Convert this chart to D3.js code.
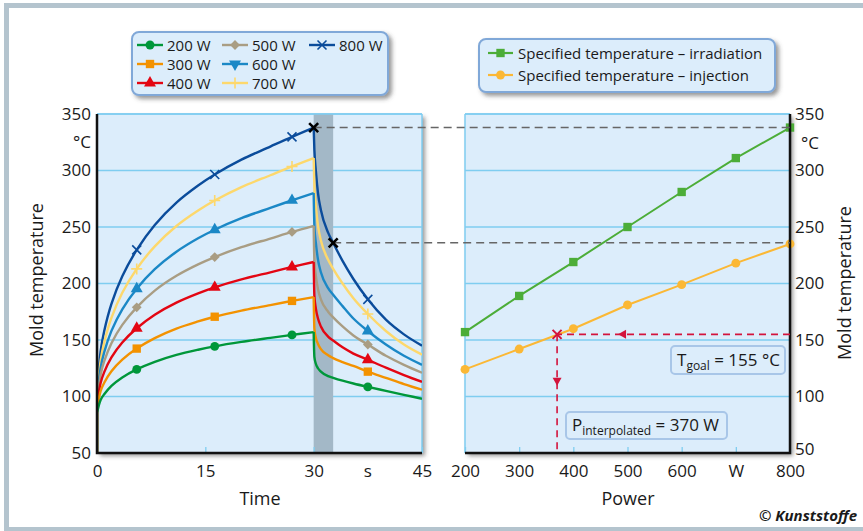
<!DOCTYPE html>
<html lang="en">
<head>
<meta charset="UTF-8">
<title>Mold temperature vs. time and power</title>
<script src="https://cdnjs.cloudflare.com/ajax/libs/d3/7.8.5/d3.min.js"></script>
<style>
  body { margin: 0; background: white; font-family: "Open Sans", sans-serif; }
  svg text { fill: #1a1a1a; }
</style>
</head>
<body>
<div id="chart"></div>
<script>
const width = 863, height = 531;

// heating (0-30 s) and cooling (30-45 s) curves, mold temperature in °C
const times = [0, 0.02, 0.5, 1, 2, 3.5, 5.5, 8, 11, 14, 16.3, 20, 24, 27, 30, 30.1, 30.3, 30.6, 31, 32, 32.7, 34, 35.5, 37.5, 40, 42.5, 45];
const temp200 = [50, 86, 97, 102, 109.4, 116.9, 124, 130.7, 136.8, 141.4, 144.4, 148.3, 151.9, 154.5, 157, 135, 129, 125, 122, 118, 116.5, 114, 111.5, 108.5, 105, 101.5, 98];
const temp300 = [50, 90, 104.7, 112.2, 122.3, 132.6, 142.4, 151.7, 160.1, 166.4, 170.6, 176, 180.9, 184.6, 188, 160, 152, 146.5, 142, 136.5, 134, 130.5, 127, 122, 116.5, 111, 106];
const temp400 = [50, 93, 112, 121.6, 134.6, 147.8, 160.4, 172.4, 183.1, 191.3, 196.6, 203.6, 209.9, 214.6, 219, 189, 178, 169, 162, 153, 149.5, 143.5, 138, 132.5, 125.5, 119, 113];
const temp500 = [50, 96, 119.3, 131.2, 147.2, 163.4, 178.9, 193.7, 206.8, 216.9, 223.4, 232.1, 239.8, 245.6, 251, 220, 207, 195, 186, 175, 170, 162, 154, 146, 136, 128, 121];
const temp600 = [50, 98, 125.3, 139.3, 158.1, 177.2, 195.4, 212.7, 228.1, 240, 247.6, 257.8, 266.9, 273.6, 280, 251, 236, 221, 210, 196, 190, 180, 169, 158, 146, 136, 128];
const temp700 = [50, 100, 131.7, 147.9, 169.6, 191.8, 212.9, 232.9, 250.9, 264.6, 273.4, 285.3, 295.8, 303.6, 311, 285, 269, 251, 238, 221, 213, 200, 187, 173, 158, 146, 137];
const temp800 = [50, 105, 140, 158, 182, 206.4, 229.7, 251.8, 271.6, 286.7, 296.5, 309.6, 321.2, 329.8, 338, 318, 300, 280, 265, 245, 236, 220, 204, 186, 168, 155, 145];
const seriesNames = ["200 W", "300 W", "400 W", "500 W", "600 W", "700 W", "800 W"];
const markerTimes = [5.5, 16.3, 27, 37.5];
const switchTime = 30, injectTime = 32.7;

// right chart: specified temperatures per power level
const powers = [200, 300, 400, 500, 600, 700, 800];
const tempIrradiation = [157, 189, 219, 250, 281, 311, 338];
const tempInjection = [124, 142, 160, 181, 199, 218, 235];
const tGoal = 155, pInterpolated = 370;

const tempTicks = [50, 100, 150, 200, 250, 300, 350];
const timeTicks = [0, 15, 30, 45];
const powerTicks = [200, 300, 400, 500, 600, 700, 800];

const allTemps = [temp200, temp300, temp400, temp500, temp600, temp700, temp800];
const colors = ["#00973a", "#f39200", "#e30613", "#a99d83", "#1b88c6", "#fdd86c", "#0b4c9b"];
const shapes = ["circle", "square", "triangle", "diamond", "triangle", "plus", "cross"];

const svg = d3.select("#chart").append("svg")
  .attr("width", width).attr("height", height);

const defs = svg.append("defs");
defs.append("filter").attr("id", "shadow").attr("x", "-10%").attr("y", "-10%").attr("width", "130%").attr("height", "130%")
  .append("feDropShadow").attr("dx", 3).attr("dy", 3).attr("stdDeviation", 2)
  .attr("flood-color", "#444").attr("flood-opacity", 0.55);

// outer frame
svg.append("rect").attr("x", 6.5).attr("y", 5.5).attr("width", 900).attr("height", 524)
  .attr("fill", "white").attr("stroke", "#b4c4ce").attr("stroke-width", 5);

const x1 = d3.scaleLinear().domain([0, 45]).range([97, 422]);
const x2 = d3.scaleLinear().domain([200, 800]).range([465, 790]);
const y = d3.scaleLinear().domain([50, 350]).range([453, 114]);

function markerPath(kind) {
  if (kind === "circle") return d3.symbol(d3.symbolCircle, 62)();
  if (kind === "square") return d3.symbol(d3.symbolSquare, 70)();
  if (kind === "triangle") return d3.symbol(d3.symbolTriangle, 62)();
  if (kind === "diamond") return d3.symbol(d3.symbolSquare, 48)();
  if (kind === "plus") return "M-5.5,0H5.5M0,-5.5V5.5";
  return "M-4.5,-4.5L4.5,4.5M-4.5,4.5L4.5,-4.5";
}
function drawMarker(g, kind, color, px, py, rot) {
  const stroked = kind === "plus" || kind === "cross";
  return g.append("path")
    .attr("d", markerPath(kind))
    .attr("transform", `translate(${px},${py}) rotate(${rot || (kind === "diamond" ? 45 : 0)})`)
    .attr("fill", stroked ? "none" : color)
    .attr("stroke", stroked ? color : "none")
    .attr("stroke-width", 1.6);
}

// ---------- plot backgrounds ----------
function plotBox(xs) {
  const [a, b] = xs.range();
  svg.append("rect").attr("x", a).attr("y", y(350)).attr("width", b - a).attr("height", y(50) - y(350))
    .attr("fill", "#dcedfb").attr("filter", "url(#shadow)");
  svg.append("g").selectAll("line").data(tempTicks.slice(1)).join("line")
    .attr("x1", a).attr("x2", b).attr("y1", d => y(d)).attr("y2", d => y(d))
    .attr("stroke", "#7fcdf0").attr("stroke-width", 1.3);
}
plotBox(x1);
plotBox(x2);

// shaded injection window
svg.append("rect").attr("x", x1(switchTime)).attr("y", y(350))
  .attr("width", x1(injectTime) - x1(switchTime)).attr("height", y(50) - y(350))
  .attr("fill", "#a3b8c7");

// light plot edges
svg.append("line").attr("x1", x1(45)).attr("x2", x1(45)).attr("y1", y(350)).attr("y2", y(50))
  .attr("stroke", "#7fcdf0").attr("stroke-width", 1.5);
svg.append("line").attr("x1", x2(200)).attr("x2", x2(200)).attr("y1", y(350)).attr("y2", y(50))
  .attr("stroke", "#7fcdf0").attr("stroke-width", 1.5);

// x ticks
const axL = svg.append("g").attr("transform", `translate(0,${y(50)})`)
  .call(d3.axisBottom(x1).tickValues(timeTicks).tickSize(-6).tickPadding(12));
const axR = svg.append("g").attr("transform", `translate(0,${y(50)})`)
  .call(d3.axisBottom(x2).tickValues(powerTicks).tickSize(-6).tickPadding(12)
    .tickFormat(d => d === 700 ? "W" : d));
[axL, axR].forEach(ax => {
  ax.select(".domain").remove();
  ax.selectAll(".tick line").attr("stroke", "#7fcdf0").attr("stroke-width", 1.3);
  ax.selectAll("text").attr("font-size", 17).attr("font-family", "Open Sans").attr("fill", "#1a1a1a");
});
svg.append("text").attr("x", x1(37.5)).attr("y", y(50) + 24).attr("text-anchor", "middle")
  .attr("font-size", 17).text("s");

// y axes
const ayL = svg.append("g").attr("transform", `translate(${x1(0)},0)`)
  .call(d3.axisLeft(y).tickValues(tempTicks).tickSize(0).tickPadding(6));
const ayR = svg.append("g").attr("transform", `translate(${x2(800)},0)`)
  .call(d3.axisRight(y).tickValues(tempTicks).tickSize(0).tickPadding(5));
[ayL, ayR].forEach(ax => {
  ax.select(".domain").remove();
  ax.selectAll("text").attr("font-size", 17).attr("font-family", "Open Sans").attr("fill", "#1a1a1a");
});
// lowest right label sits just above the "800" tick label
ayR.selectAll(".tick").filter(d => d === 50).select("text").attr("dy", "0.1em");
svg.append("text").attr("x", 91).attr("y", 148).attr("text-anchor", "end").attr("font-size", 17).text("°C");
svg.append("text").attr("x", 801).attr("y", 149).attr("font-size", 17).text("°C");

// ---------- left chart curves ----------
defs.append("clipPath").attr("id", "clipL").append("rect")
  .attr("x", x1(0)).attr("y", y(350)).attr("width", x1(45) - x1(0)).attr("height", y(50) - y(350));
const curves = svg.append("g").attr("clip-path", "url(#clipL)");
// heating and cooling drawn as two pieces so the peak at 30 s stays sharp
const heatLine = d3.line().x(d => x1(d[0])).y(d => y(d[1])).curve(d3.curveCatmullRom.alpha(0.5));
const coolLine = d3.line().x(d => x1(d[0])).y(d => y(d[1])).curve(d3.curveMonotoneX);
const iSwitch = times.indexOf(switchTime), iInject = times.indexOf(injectTime);
for (let i = allTemps.length - 1; i >= 0; i--) {
  const pts = times.map((t, j) => [t, allTemps[i][j]]);
  curves.append("path").attr("d", heatLine(pts.slice(1, iSwitch + 1)) + "M" + x1(0) + "," + y(pts[0][1]) + "V" + y(pts[1][1]))
    .attr("fill", "none").attr("stroke", colors[i]).attr("stroke-width", 2.4);
  curves.append("path").attr("d", coolLine(pts.slice(iSwitch)))
    .attr("fill", "none").attr("stroke", colors[i]).attr("stroke-width", 2.4);
}
for (let i = allTemps.length - 1; i >= 0; i--) {
  markerTimes.forEach(t => {
    const j = times.indexOf(t);
    drawMarker(svg, shapes[i], colors[i], x1(t), y(allTemps[i][j]));
  });
}

// ---------- right chart ----------
const line2 = d3.line().x(d => x2(d[0])).y(d => y(d[1]));
const irr = powers.map((p, i) => [p, tempIrradiation[i]]);
const inj = powers.map((p, i) => [p, tempInjection[i]]);
svg.append("path").attr("d", line2(irr)).attr("fill", "none").attr("stroke", "#4cad38").attr("stroke-width", 2);
svg.append("path").attr("d", line2(inj)).attr("fill", "none").attr("stroke", "#fbb835").attr("stroke-width", 2);
irr.forEach(d => drawMarker(svg, "square", "#4cad38", x2(d[0]), y(d[1])));
inj.forEach(d => drawMarker(svg, "circle", "#fbb835", x2(d[0]), y(d[1])));

// top edges (light) and axis lines (black)
[x1, x2].forEach(xs => {
  svg.append("line").attr("x1", xs.range()[0]).attr("x2", xs.range()[1]).attr("y1", y(350)).attr("y2", y(350))
    .attr("stroke", "#7fcdf0").attr("stroke-width", 1.5);
});
svg.append("path").attr("d", `M${x1(0)},${y(350)}V${y(50)}H${x1(45)}`)
  .attr("fill", "none").attr("stroke", "#111").attr("stroke-width", 2.5);
svg.append("path").attr("d", `M${x2(200)},${y(50)}H${x2(800)}V${y(350)}`)
  .attr("fill", "none").attr("stroke", "#111").attr("stroke-width", 2.5);

// dashed connectors from the 800 W curve to the right chart
[[switchTime, temp800[iSwitch]], [injectTime, temp800[iInject]]].forEach(([t, v]) => {
  svg.append("line").attr("x1", x1(t)).attr("x2", x2(800)).attr("y1", y(v)).attr("y2", y(v))
    .attr("stroke", "#666").attr("stroke-width", 1.5).attr("stroke-dasharray", "8,5");
  drawMarker(svg, "cross", "#000", x1(t), y(v)).attr("stroke-width", 2.6);
});

// interpolation annotation
const red = "#d3143c";
svg.append("line").attr("x1", x2(800)).attr("x2", x2(pInterpolated)).attr("y1", y(tGoal)).attr("y2", y(tGoal))
  .attr("stroke", red).attr("stroke-width", 1.6).attr("stroke-dasharray", "7,5");
svg.append("line").attr("x1", x2(pInterpolated)).attr("x2", x2(pInterpolated)).attr("y1", y(tGoal)).attr("y2", y(50))
  .attr("stroke", red).attr("stroke-width", 1.6).attr("stroke-dasharray", "7,5");
svg.append("path").attr("transform", `translate(${x2(490)},${y(tGoal)})`)
  .attr("d", "M-4,0L4,-4.5L4,4.5Z").attr("fill", red);
svg.append("path").attr("transform", `translate(${x2(pInterpolated)},${y(113)})`)
  .attr("d", "M0,4L-4.5,-4L4.5,-4Z").attr("fill", red);
svg.append("path").attr("d", "M-4.5,-4.5L4.5,4.5M-4.5,4.5L4.5,-4.5").attr("transform", `translate(${x2(pInterpolated)},${y(tGoal)})`)
  .attr("stroke", red).attr("stroke-width", 2).attr("fill", "none");

function labelBox(x, yy, w, h, main, sub, rest) {
  svg.append("rect").attr("x", x).attr("y", yy).attr("width", w).attr("height", h).attr("rx", 4)
    .attr("fill", "#dcedfb").attr("stroke", "#a8c6e8").attr("stroke-width", 2);
  const t = svg.append("text").attr("x", x + 6).attr("y", yy + h - 8).attr("font-size", 17);
  t.append("tspan").text(main);
  t.append("tspan").attr("dy", 4).attr("font-size", 12).text(sub);
  t.append("tspan").attr("dy", -4).text(rest);
}
labelBox(671, 346, 114, 28, "T", "goal", ` = ${tGoal} °C`);
labelBox(566, 412, 161, 27, "P", "interpolated", ` = ${pInterpolated} W`);

// ---------- legends ----------
function legendBox(x, yy, w, h) {
  svg.append("rect").attr("x", x).attr("y", yy).attr("width", w).attr("height", h).attr("rx", 7)
    .attr("fill", "#dcedfb").attr("stroke", "#80a8d8").attr("stroke-width", 2).attr("filter", "url(#shadow)");
}
legendBox(132, 32, 256, 63);
const legCols = [137, 222, 309], legRows = [45, 64, 83];
seriesNames.forEach((name, i) => {
  const lx = legCols[Math.floor(i / 3)], ly = legRows[i % 3];
  svg.append("line").attr("x1", lx).attr("x2", lx + 26).attr("y1", ly).attr("y2", ly)
    .attr("stroke", colors[i]).attr("stroke-width", 2.4);
  drawMarker(svg, shapes[i], colors[i], lx + 13, ly, i === 4 ? 180 : undefined);
  svg.append("text").attr("x", lx + 30).attr("y", ly + 5.5).attr("font-size", 15).text(name);
});

legendBox(479, 39, 296, 53);
[["Specified temperature – irradiation", "#4cad38", "square"],
 ["Specified temperature – injection", "#fbb835", "circle"]].forEach(([name, c, s], i) => {
  const ly = [53, 75][i];
  svg.append("line").attr("x1", 488).attr("x2", 513).attr("y1", ly).attr("y2", ly)
    .attr("stroke", c).attr("stroke-width", 2.2);
  drawMarker(svg, s, c, 500.5, ly);
  svg.append("text").attr("x", 518).attr("y", ly + 5.5).attr("font-size", 15).text(name);
});

// ---------- titles ----------
svg.append("text").attr("x", 260).attr("y", 505).attr("text-anchor", "middle").attr("font-size", 18).text("Time");
svg.append("text").attr("x", 628).attr("y", 505).attr("text-anchor", "middle").attr("font-size", 18).text("Power");
svg.append("text").attr("transform", "translate(43,280) rotate(-90)").attr("text-anchor", "middle")
  .attr("font-size", 18).text("Mold temperature");
svg.append("text").attr("transform", "translate(851,283) rotate(-90)").attr("text-anchor", "middle")
  .attr("font-size", 18).text("Mold temperature");
svg.append("text").attr("x", 857).attr("y", 521).attr("text-anchor", "end")
  .attr("font-size", 15).attr("font-weight", "bold").attr("font-style", "italic").text("© Kunststoffe");
</script>
</body>
</html>
